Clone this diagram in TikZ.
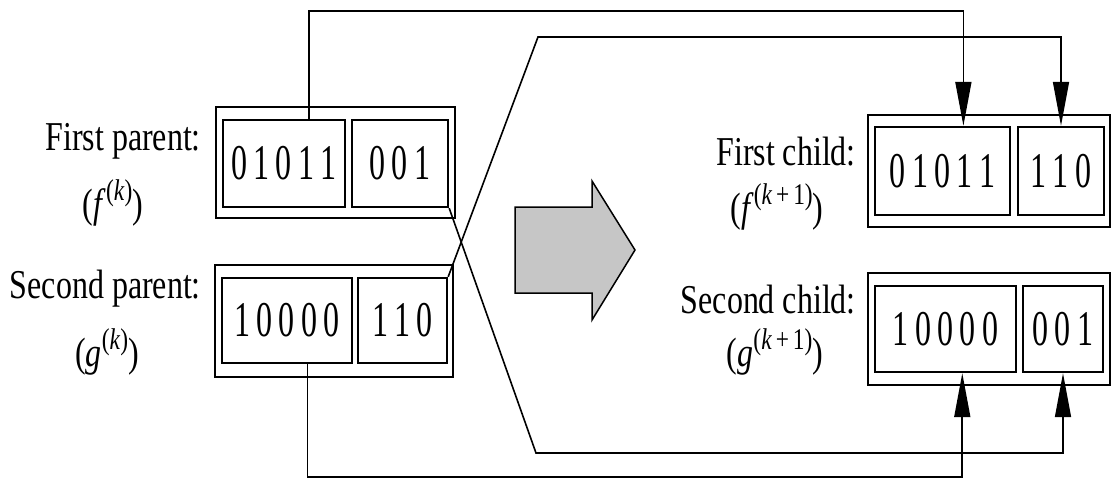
\documentclass[tikz,border=0pt]{standalone}
\usepackage{fontspec}
\usepackage{graphicx}
\setmainfont{Liberation Serif}
\usetikzlibrary{arrows.meta,calc}
\newcommand{\lbl}[1]{\scalebox{0.78}[1]{\fontsize{41}{44}\selectfont #1}}
\newcommand{\gp}{\kern0.2em}
\newcommand{\sups}[1]{\raisebox{0.42em}{\fontsize{30}{32}\selectfont #1}}
\newcommand{\bits}[1]{\scalebox{0.64}[1]{\fontsize{50}{54}\selectfont #1}}
\tikzset{
  outerbox/.style={draw, line width=2.2pt, inner sep=0pt},
  bitbox/.style={draw, line width=2.4pt, inner sep=0pt},
  conn/.style={line width=1.6pt},
  tip/.style={-{Triangle[length=44pt,width=16pt]}},
  label/.style={inner sep=0pt},
}
\begin{document}
\begin{tikzpicture}[x=1pt,y=-1pt]
\useasboundingbox (0,0) rectangle (1112,479);
\fill[white] (0,0) rectangle (1112,479);

% parents
\node[outerbox, minimum width=239pt, minimum height=111pt] (P1) at (335.5,162.5) {};
\node[bitbox, minimum width=122pt, minimum height=87pt] (P1a) at (284,163.5) {\bits{0\gp1\gp0\gp1\gp1}};
\node[bitbox, minimum width=96pt, minimum height=87pt] (P1b) at (400,163.5) {\bits{0\gp0\gp1}};

\node[outerbox, minimum width=238pt, minimum height=112pt] (P2) at (334,321) {};
\node[bitbox, minimum width=130pt, minimum height=85pt] (P2a) at (287,320.5) {\bits{1\gp0\gp0\gp0\gp0}};
\node[bitbox, minimum width=89pt, minimum height=85pt] (P2b) at (402.5,320.5) {\bits{1\gp1\gp0}};

% children
\node[outerbox, minimum width=242pt, minimum height=112pt] (C1) at (989,171) {};
\node[bitbox, minimum width=135pt, minimum height=88pt] (C1a) at (942.5,171) {\bits{0\gp1\gp0\gp1\gp1}};
\node[bitbox, minimum width=86pt, minimum height=88pt] (C1b) at (1061,171) {\bits{1\gp1\gp0}};

\node[outerbox, minimum width=242pt, minimum height=112pt] (C2) at (989,329) {};
\node[bitbox, minimum width=141pt, minimum height=86pt] (C2a) at (945.5,329) {\bits{1\gp0\gp0\gp0\gp0}};
\node[bitbox, minimum width=80pt, minimum height=86pt] (C2b) at (1063,329) {\bits{0\gp0\gp1}};

% labels
\node[label, anchor=base east] (L1) at (201,150) {\lbl{First parent:}};
\node[label] (L1s) at (113,203) {\lbl{(\textit{f}\sups{(\textit{k})})}};
\node[label, anchor=base east] (L2) at (201,298) {\lbl{Second parent:}};
\node[label] (L2s) at (107,352) {\lbl{(\textit{g}\sups{(\textit{k})})}};
\node[label, anchor=base east] (L3) at (856,165) {\lbl{First child:}};
\node[label] (L3s) at (777,207) {\lbl{(\textit{f}\sups{(\textit{k}\,+\,1)})}};
\node[label, anchor=base east] (L4) at (856,313) {\lbl{Second child:}};
\node[label] (L4s) at (775,352) {\lbl{(\textit{g}\sups{(\textit{k}\,+\,1)})}};

% big arrow
\draw[line width=1.5pt, fill=gray!45] (515,207) -- (592,207) -- (592,181) -- (635,250) -- (592,320) -- (592,293) -- (515,293) -- cycle;

% connectors
\draw[conn, tip] ($(P1a.north west)!0.70!(P1a.north east)$) -- ++(0,-108) -| ($(C1a.north west)!0.652!(C1a.north east)$);
\draw[conn, tip] (P2b.north east) -- (538,37) -| (C1b.north);
\draw[conn, tip] (P1b.south east) -- (536,453) -| (C2b.south);
\draw[conn, tip] ($(P2a.south west)!0.654!(P2a.south east)$) -- ++(0,113) -| ($(C2a.south west)!0.617!(C2a.south east)$);
\end{tikzpicture}
\end{document}
